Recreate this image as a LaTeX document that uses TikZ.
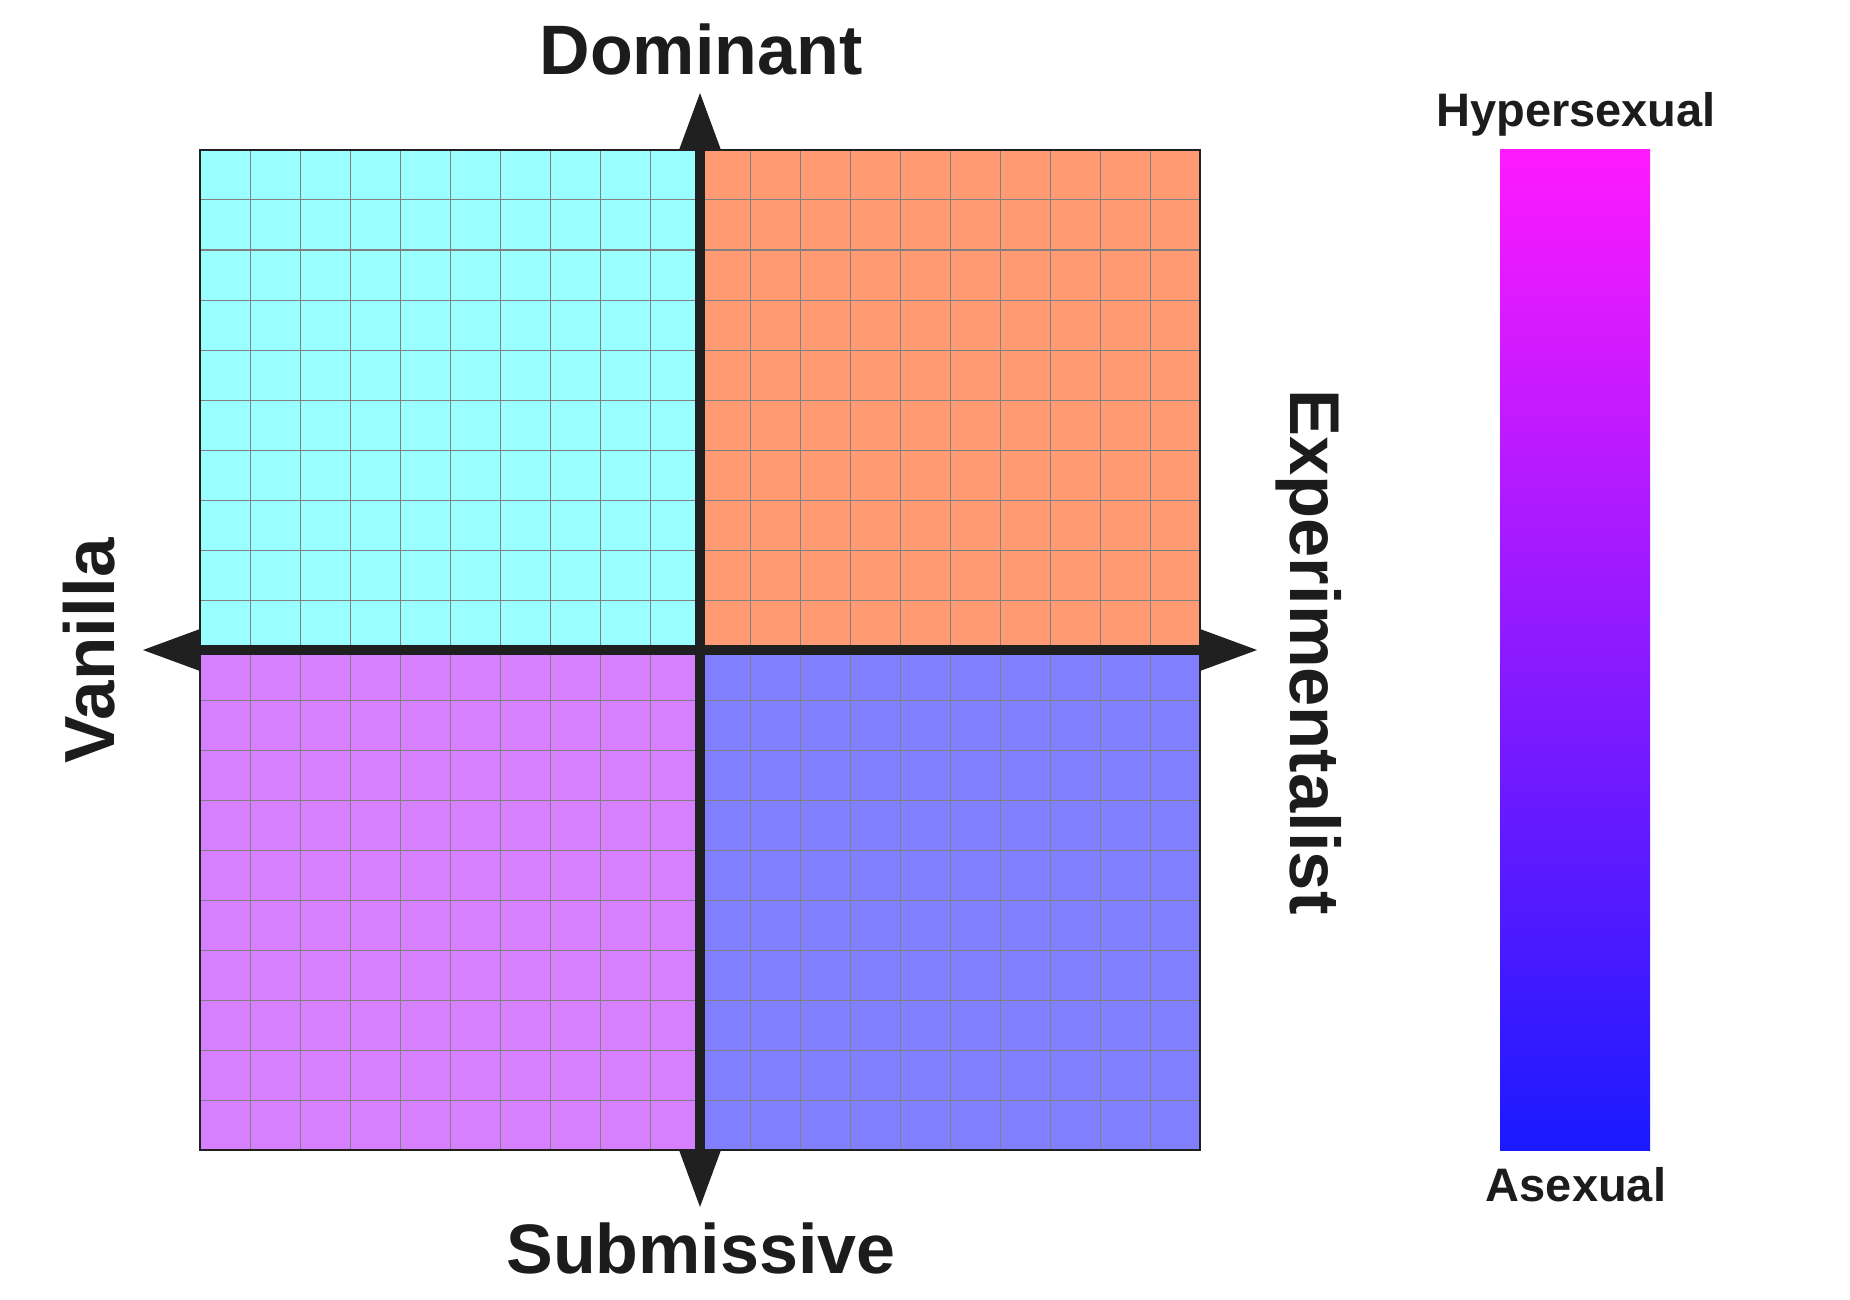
\documentclass[tikz,border=0pt]{standalone}
\usepackage{fontspec}
\setmainfont{Liberation Sans}
\usetikzlibrary{calc}
\definecolor{cyanq}{RGB}{153,255,255}
\definecolor{orangeq}{RGB}{255,154,114}
\definecolor{purpleq}{RGB}{215,128,255}
\definecolor{blueq}{RGB}{128,128,255}
\definecolor{axiscol}{RGB}{32,32,32}
\definecolor{gridcol}{RGB}{128,128,128}
\definecolor{txtcol}{RGB}{28,28,28}
\definecolor{hyper}{RGB}{255,26,255}
\definecolor{asex}{RGB}{26,26,255}
\tikzset{
  lbl/.style={inner sep=0pt, anchor=base, text=txtcol, font=\bfseries},
  axisline/.style={draw=axiscol, line width=10pt},
  tip/.style={fill=axiscol},
}
\begin{document}
\begin{tikzpicture}[x=1pt,y=-1pt]
\useasboundingbox (0,0) rectangle (1850,1300);
% quadrants
\fill[cyanq] (200,150) rectangle (700,650);
\fill[orangeq] (700,150) rectangle (1200,650);
\fill[purpleq] (200,650) rectangle (700,1150);
\fill[blueq] (700,650) rectangle (1200,1150);
\draw[gridcol, line width=1pt, step=50pt] (200,150) grid (1200,1150);
\draw[axiscol, line width=1.5pt] (200,150) rectangle (1200,1150);
% axes
\coordinate (top) at (700,150);
\coordinate (bot) at (700,1150);
\coordinate (lft) at (200,650);
\coordinate (rgt) at (1200,650);
\draw[axisline] (top) -- (bot);
\draw[axisline] (lft) -- (rgt);
\fill[tip] ($(top)+(-21,0)$) -- ($(top)+(0,-57)$) -- ($(top)+(21,0)$) -- cycle;
\fill[tip] ($(bot)+(-21,0)$) -- ($(bot)+(0,57)$) -- ($(bot)+(21,0)$) -- cycle;
\fill[tip] ($(lft)+(0,-21)$) -- ($(lft)+(-57,0)$) -- ($(lft)+(0,21)$) -- cycle;
\fill[tip] ($(rgt)+(0,-21)$) -- ($(rgt)+(57,0)$) -- ($(rgt)+(0,21)$) -- cycle;
% axis labels
\node[lbl, font=\bfseries\fontsize{70}{70}\selectfont] (dom) at (701,75) {Dominant};
\node[lbl, font=\bfseries\fontsize{70}{70}\selectfont] (sub) at (701,1273) {Submissive};
\node[lbl, font=\bfseries\fontsize{71}{71}\selectfont, rotate=90] (van) at (114,651) {Vanilla};
\node[lbl, font=\bfseries\fontsize{70.5}{70.5}\selectfont, rotate=-90] (exp) at (1290,652) {Experimentalist};
% gradient bar
\shade[top color=hyper, bottom color=asex] (1500,150) rectangle (1650,1150);
\node[lbl, font=\bfseries\fontsize{47}{47}\selectfont] (hyp) at (1576,127) {Hypersexual};
\node[lbl, font=\bfseries\fontsize{47}{47}\selectfont] (asx) at (1576,1201) {Asexual};
\end{tikzpicture}
\end{document}
